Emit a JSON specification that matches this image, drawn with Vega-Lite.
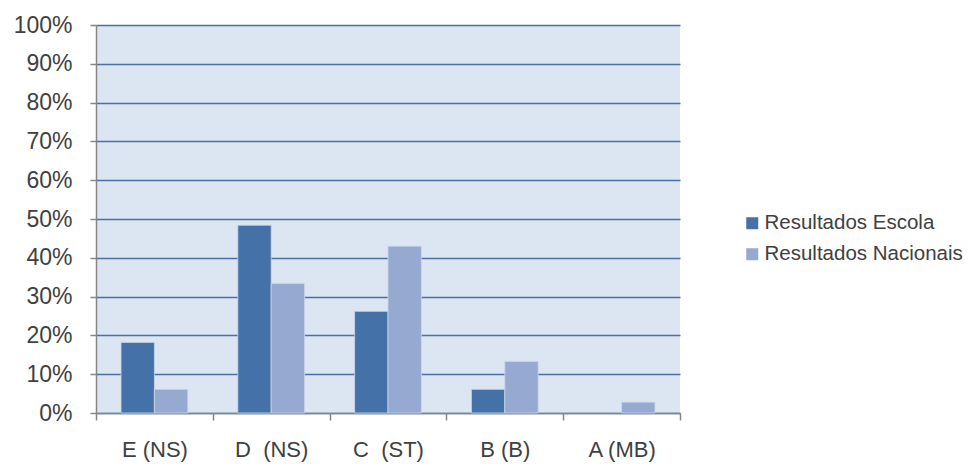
{
  "$schema": "https://vega.github.io/schema/vega-lite/v6.json",
  "width": 584,
  "height": 388,
  "autosize": "none",
  "padding": {"left": 96, "top": 25, "right": 289, "bottom": 51},
  "background": "white",
  "config": {
    "font": "Liberation Sans",
    "view": {"fill": "#DCE6F2", "stroke": null}
  },
  "data": {
    "values": [
      {"nivel": "E (NS)", "serie": "Resultados Escola", "valor": 0.182},
      {"nivel": "E (NS)", "serie": "Resultados Nacionais", "valor": 0.061},
      {"nivel": "D\u00a0\u00a0(NS)", "serie": "Resultados Escola", "valor": 0.484},
      {"nivel": "D\u00a0\u00a0(NS)", "serie": "Resultados Nacionais", "valor": 0.334},
      {"nivel": "C\u00a0\u00a0(ST)", "serie": "Resultados Escola", "valor": 0.262},
      {"nivel": "C\u00a0\u00a0(ST)", "serie": "Resultados Nacionais", "valor": 0.430},
      {"nivel": "B (B)", "serie": "Resultados Escola", "valor": 0.061},
      {"nivel": "B (B)", "serie": "Resultados Nacionais", "valor": 0.133},
      {"nivel": "A (MB)", "serie": "Resultados Escola", "valor": 0.0},
      {"nivel": "A (MB)", "serie": "Resultados Nacionais", "valor": 0.028}
    ]
  },
  "mark": {"type": "bar", "stroke": "#C9D5EA", "strokeWidth": 0.8},
  "encoding": {
    "x": {
      "field": "nivel",
      "type": "nominal",
      "sort": null,
      "scale": {"paddingInner": 0, "paddingOuter": 0},
      "axis": {
        "title": null,
        "labelAngle": 0,
        "tickBand": "extent",
        "domainColor": "#868686",
        "domainWidth": 1.5,
        "tickColor": "#868686",
        "tickWidth": 1.5,
        "tickSize": 7,
        "labelPadding": 19,
        "labelFontSize": 22,
        "labelColor": "#404040",
        "labelBaseline": "top"
      }
    },
    "xOffset": {
      "field": "serie",
      "type": "nominal",
      "scale": {"paddingInner": 0, "paddingOuter": 0.75}
    },
    "y": {
      "field": "valor",
      "type": "quantitative",
      "scale": {"domain": [0, 1], "nice": false},
      "axis": {
        "title": null,
        "format": ".0%",
        "values": [0, 0.1, 0.2, 0.3, 0.4, 0.5, 0.6, 0.7, 0.8, 0.9, 1.0],
        "grid": true,
        "gridColor": "#4A6FA5",
        "gridWidth": 1.5,
        "domainColor": "#868686",
        "domainWidth": 1.5,
        "tickColor": "#868686",
        "tickWidth": 1.5,
        "tickSize": 6,
        "labelPadding": 18,
        "labelFontSize": 23,
        "labelColor": "#404040"
      }
    },
    "strokeOpacity": {
      "condition": {"test": "datum.valor > 0", "value": 1},
      "value": 0
    },
    "color": {
      "field": "serie",
      "type": "nominal",
      "scale": {
        "domain": ["Resultados Escola", "Resultados Nacionais"],
        "range": ["#4472A8", "#95A9D1"]
      },
      "legend": {
        "title": null,
        "orient": "none",
        "legendX": 646,
        "legendY": 188,
        "symbolType": "square",
        "symbolSize": 144,
        "symbolStrokeWidth": 0,
        "labelFontSize": 20.5,
        "labelColor": "#404040",
        "labelOffset": 2,
        "labelLimit": 0,
        "rowPadding": 10
      }
    }
  }
}
